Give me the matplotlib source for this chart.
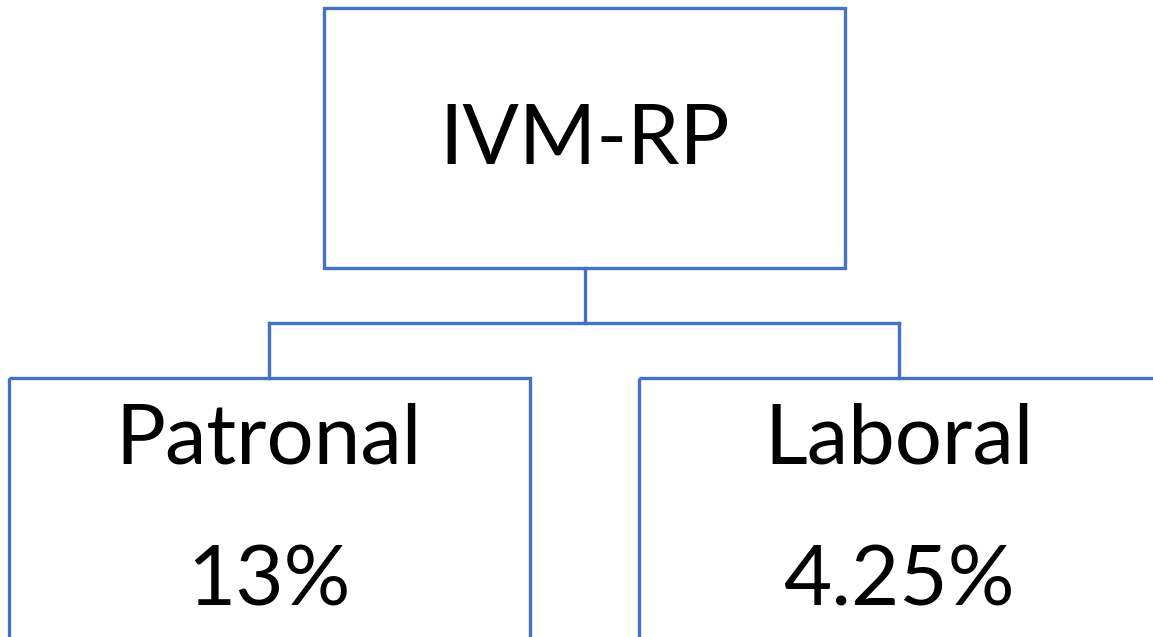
import matplotlib.pyplot as plt
from matplotlib.patches import Rectangle

root_label = "IVM-RP"
child_names = ["Patronal", "Laboral"]
child_rates = ["13%", "4.25%"]

W, H = 1153, 637
BLUE = "#4472C4"
LW = 2.4

fig = plt.figure(figsize=(W / 100, H / 100), dpi=100)
ax = fig.add_axes([0, 0, 1, 1])
ax.set_xlim(0, W)
ax.set_ylim(H, 0)
ax.axis("off")

# root box
root = (324, 8, 521, 260)  # x, y, w, h
ax.add_patch(Rectangle(root[:2], root[2], root[3], fill=False, ec=BLUE, lw=LW))
ax.text(root[0] + root[2] / 2, 141, root_label, ha="center", va="center",
        fontsize=60, family="Lato", color="black")

# connectors
mid_y = 323
child_boxes = [(9, 378, 521, 300), (639, 378, 521, 300)]
cx_root = root[0] + root[2] / 2
ax.plot([cx_root, cx_root], [root[1] + root[3], mid_y], color=BLUE, lw=LW)
tops = [b[0] + 260 for b in child_boxes]
ax.plot([tops[0], tops[1]], [mid_y, mid_y], color=BLUE, lw=LW)
for cx in tops:
    ax.plot([cx, cx], [mid_y, 378], color=BLUE, lw=LW)

# child boxes
for (x, y, w, h), name, rate in zip(child_boxes, child_names, child_rates):
    ax.add_patch(Rectangle((x, y), w, h, fill=False, ec=BLUE, lw=LW))
    ax.text(x + 260, 440, name, ha="center", va="center",
            fontsize=60, family="Lato", color="black")
    ax.text(x + 260, 582, rate, ha="center", va="center",
            fontsize=60, family="Lato", color="black")

fig.savefig("out.png", dpi=100)
